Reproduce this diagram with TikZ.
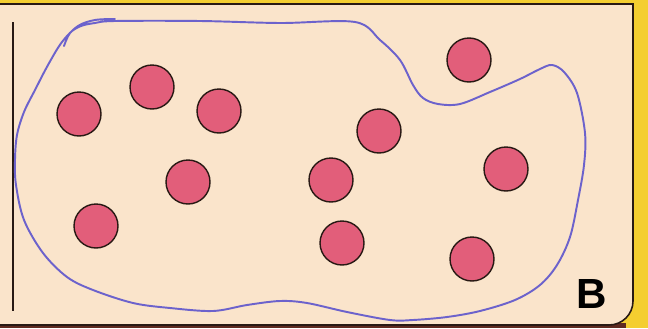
\documentclass[tikz,border=0pt]{standalone}
\usepackage{fontspec}
\setsansfont{Liberation Sans}
\definecolor{panelcolor}{RGB}{250,228,203}
\definecolor{framecolor}{RGB}{244,206,48}
\definecolor{edgecolor}{RGB}{40,25,20}
\definecolor{basecolor}{RGB}{95,42,32}
\definecolor{membercolor}{RGB}{226,94,122}
\definecolor{setcolor}{RGB}{108,98,204}
\tikzstyle{member} = [circle, draw=edgecolor, fill=membercolor, minimum size=0.88cm, inner sep=0pt, line width=0.8pt]
\tikzstyle{setline} = [draw=setcolor, line width=1.1pt, line cap=round, line join=round]

\begin{document}
\begin{tikzpicture}[x=0.02cm, y=-0.02cm]

\useasboundingbox (0,0) rectangle (648,328);

% Frame and panel
\fill[framecolor] (0,0) rectangle (648,328);
\fill[basecolor] (0,323) rectangle (626,328);
\filldraw[fill=panelcolor, draw=edgecolor, line width=0.9pt] (-4,4) -- (633,4) -- (633,301) arc[start angle=0, end angle=90, radius=24] -- (-4,325) -- cycle;

% Left rule
\coordinate (ruletop) at (13,22);
\coordinate (rulebot) at (13,311);
\draw[edgecolor, line width=0.8pt] (ruletop) -- (rulebot);

% Set boundary
\draw[setline] plot[smooth, tension=0.55] coordinates {(64,46) (70,33) (81,26) (95,23) (115,21) (200,21) (280,23) (355,22) (380,40) (400,60) (413,85) (423,98) (438,104) (460,104) (490,92) (520,79) (540,69) (552,65) (564,72) (577,93) (585,133) (584,165) (578,200) (570,237) (557,265) (540,285) (515,300) (480,311) (447,317) (413,320) (390,320) (347,312) (307,303) (280,301) (247,305) (213,311) (170,308) (133,303) (93,290) (67,277) (43,253) (24,220) (16,185) (15,160) (17,135) (24,112) (35,90) (48,65) (62,42) (78,26) (95,20) (115,19)};

% Members
\node (m1) [member] at (79,114) {};
\node (m2) [member] at (152,87) {};
\node (m3) [member] at (219,111) {};
\node (m4) [member] at (188,182) {};
\node (m5) [member] at (96,226) {};
\node (m6) [member] at (379,131) {};
\node (m7) [member] at (331,180) {};
\node (m8) [member] at (342,243) {};
\node (m9) [member] at (469,60) {};
\node (m10) [member] at (506,169) {};
\node (m11) [member] at (472,259) {};

% Label
\node (tag) [font=\sffamily\bfseries\fontsize{24}{24}\selectfont] at (592,294) {B};

\end{tikzpicture}
\end{document}
